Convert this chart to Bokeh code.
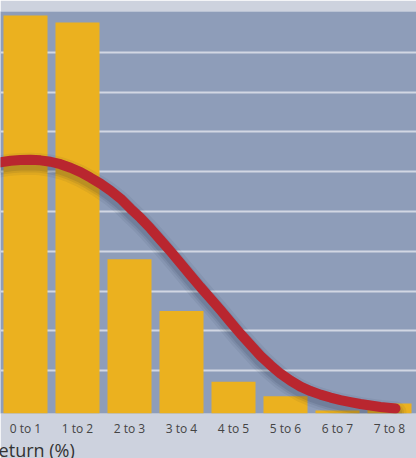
from bokeh.plotting import figure
from bokeh.models import Range1d, FixedTicker, Title
from bokeh.embed import file_html
from bokeh.resources import INLINE

# ---- data ----
categories = ["0 to 1", "1 to 2", "2 to 3", "3 to 4", "4 to 5", "5 to 6", "6 to 7", "7 to 8"]
frequency = [9.925, 9.75, 3.8, 2.5, 0.72, 0.36, 0.0, 0.175]
curve_x = [-0.212, 0.019, 0.212, 0.404, 0.596, 0.789, 0.981, 1.173, 1.365, 1.558,
           1.75, 1.942, 2.135, 2.327, 2.519, 2.712, 2.904, 3.096, 3.288, 3.481,
           3.673, 3.865, 4.058, 4.25, 4.442, 4.635, 4.827, 5.019, 5.212, 5.404,
           5.596, 5.789, 5.981, 6.173, 6.365, 6.558, 6.75, 6.942, 7.135, 7.327, 7.615]
curve_y = [6.175, 6.238, 6.275, 6.295, 6.3, 6.285, 6.25, 6.188, 6.1, 5.988,
           5.85, 5.7, 5.525, 5.325, 5.075, 4.838, 4.575, 4.288, 4.0, 3.7,
           3.4, 3.1, 2.813, 2.525, 2.225, 1.925, 1.65, 1.375, 1.138, 0.925,
           0.75, 0.6, 0.488, 0.4, 0.325, 0.263, 0.213, 0.163, 0.125, 0.088, 0.05]
grid_ticks = [1, 2, 3, 4, 5, 6, 7, 8, 9]
axis_title = "Return (%)"

BASE = -0.075
centers = [i + 0.5 for i in range(len(categories))]

p = figure(width=416, height=458, output_backend="svg", toolbar_location=None,
           x_range=Range1d(1 / 52, 8 + 1 / 52), y_range=Range1d(BASE, 10.025),
           min_border_left=0, min_border_right=0, min_border_top=11, min_border_bottom=43)

p.background_fill_color = "#8e9db9"
p.border_fill_color = "#cdd2de"
p.outline_line_color = None

p.yaxis.visible = False
p.ygrid.ticker = FixedTicker(ticks=grid_ticks)
p.ygrid.grid_line_color = "#d2d7e3"
p.ygrid.grid_line_width = 2
p.xgrid.grid_line_color = None

p.vbar(x=centers, top=frequency, bottom=BASE, width=44 / 52, color="#ebb11f", line_color=None)

# soft shadow of the curve
for w, a in [(22, 0.06), (17, 0.08), (13, 0.10)]:
    p.line(curve_x, [y - 0.1 for y in curve_y], line_width=w, line_alpha=a,
           line_color="#101a33", line_cap="round", line_join="round")
p.line(curve_x, curve_y, line_width=10, line_color="#b9262f", line_cap="round", line_join="round")

xa = p.xaxis[0]
xa.ticker = FixedTicker(ticks=centers)
xa.major_label_overrides = {c: lab for c, lab in zip(centers, categories)}
xa.axis_line_color = None
xa.major_tick_line_color = None
xa.minor_tick_line_color = None
xa.major_tick_out = 0
xa.major_label_standoff = 6
xa.major_label_text_font = "Open Sans"
xa.major_label_text_font_size = "12px"
xa.major_label_text_color = "#444444"

p.add_layout(Title(text=axis_title, align="left", offset=-13, text_font="Open Sans",
                   text_font_size="18px", text_font_style="normal", text_color="#333333",
                   standoff=-7), "below")

open("out.html", "w").write(file_html(p, INLINE))
